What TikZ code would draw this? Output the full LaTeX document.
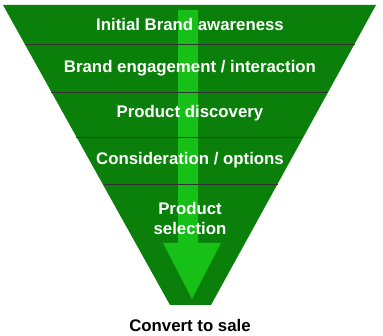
\documentclass[tikz,border=0pt]{standalone}
\usepackage{fontspec}
\setmainfont{Liberation Sans}
\usetikzlibrary{calc}
\definecolor{funnel}{HTML}{0A800A}
\definecolor{flow}{HTML}{16C016}

\begin{document}
\begin{tikzpicture}[x=1pt, y=-1pt, font=\fontsize{16.8}{20}\selectfont\bfseries,
          label/.style={text=white, align=center, inner sep=0pt},
          layer/.style={draw=black!80, line width=0.6pt}]
        \useasboundingbox (0,0) rectangle (383,336);
        \coordinate (tl) at (3,5);
        \coordinate (tr) at (376,5);
        \coordinate (bl) at (170,305);
        \coordinate (br) at (211,305);
        \fill[funnel] (tl) -- (tr) -- (br) -- (bl) -- cycle;

        % big arrow down the funnel
        \fill[flow] (178,10) -- (198,10) -- (198,243) -- (221,243)
          -- (192,299) -- (163,243) -- (178,243) -- cycle;

        \foreach \y in {44,92,137,184}
          \draw[layer] ($(tl)!{(\y-5)/300}!(bl)$) -- ($(tr)!{(\y-5)/300}!(br)$);

        \node[label] (aware)    at (190,24)  {Initial Brand awareness};
        \node[label] (engage)   at (190,68)  {Brand engagement / interaction};
        \node[label] (discover) at (190,113) {Product discovery};
        \node[label] (consider) at (190,160) {Consideration / options};
        \node[label] (select)   at (190,218) {Product\\selection};
        \node[inner sep=0pt] (sale) at (190,325) {Convert to sale};
      \end{tikzpicture}
\end{document}
